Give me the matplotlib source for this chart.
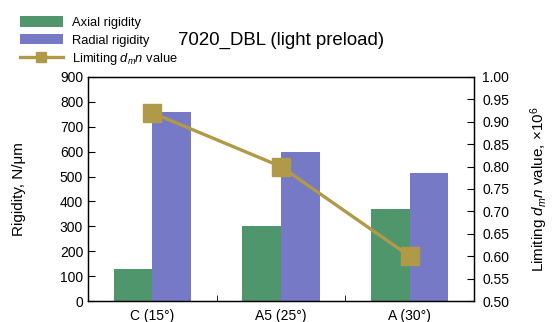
import matplotlib
import matplotlib.pyplot as plt
from matplotlib.lines import Line2D
import numpy as np

matplotlib.use('agg')
plt.rcParams['font.family'] = ['Liberation Sans', 'DejaVu Sans']
plt.rcParams['mathtext.fontset'] = 'custom'
plt.rcParams['mathtext.it'] = 'Liberation Sans:italic'
plt.rcParams['mathtext.rm'] = 'Liberation Sans'

categories = ['C (15°)', 'A5 (25°)', 'A (30°)']
axial = [130, 300, 370]
radial = [760, 600, 515]
limiting = [0.92, 0.80, 0.60]

GREEN = '#50966c'
BLUE = '#7579c6'
GOLD = '#b09a48'
BAR_WIDTH = 0.3

fig = plt.figure(figsize=(5.52, 3.22), dpi=100)
ax = fig.add_axes([0.1594, 0.0652, 0.6993, 0.6957])
x = np.arange(len(categories))

b1 = ax.bar(x - BAR_WIDTH / 2, axial, BAR_WIDTH, color=GREEN, label='Axial rigidity')
b2 = ax.bar(x + BAR_WIDTH / 2, radial, BAR_WIDTH, color=BLUE, label='Radial rigidity')
ax.set_xlim(-0.5, len(categories) - 0.5)
ax.set_ylim(0, 900)
ax.set_yticks(range(0, 901, 100))
ax.set_xticks(x)
ax.set_xticklabels(categories, fontsize=10)
ax.tick_params(axis='x', length=0, pad=6)
ax.set_xticks(np.arange(0.5, len(categories) - 1, 1), minor=True)
ax.tick_params(axis='x', which='minor', direction='in', length=4)
ax.tick_params(axis='y', direction='in', length=5, labelsize=10)
ax.set_ylabel('Rigidity, N/μm', fontsize=11, labelpad=24)

ax2 = ax.twinx()
ax2.plot(x, limiting, color=GOLD, lw=2.4, marker='s', markersize=13.5)
ax2.set_ylim(0.5, 1.0)
ax2.set_yticks(np.arange(0.5, 1.001, 0.05))
ax2.set_yticklabels([f'{v:.2f}' for v in np.arange(0.5, 1.001, 0.05)])
ax2.tick_params(axis='y', direction='in', length=5, labelsize=10, pad=6)
ax2.set_ylabel(r'Limiting $d_m n$ value, ×10$^6$', fontsize=11, labelpad=14)

for a in (ax, ax2):
    for s in a.spines.values():
        s.set_linewidth(0.9)

ln = Line2D([], [], color=GOLD, lw=2.4, marker='s', markersize=7,
            label='Limiting $d_m n$ value')
fig.legend(handles=[b1, b2, ln], loc='upper left', bbox_to_anchor=(0.027, 0.965),
           frameon=False, fontsize=9.3, handlelength=3.3, handleheight=0.9,
           labelspacing=0.35, handletextpad=0.7, borderaxespad=0)
fig.text(0.322, 0.876, '7020_DBL (light preload)', fontsize=13.4, ha='left', va='center')

fig.savefig('out.png', dpi=100)
